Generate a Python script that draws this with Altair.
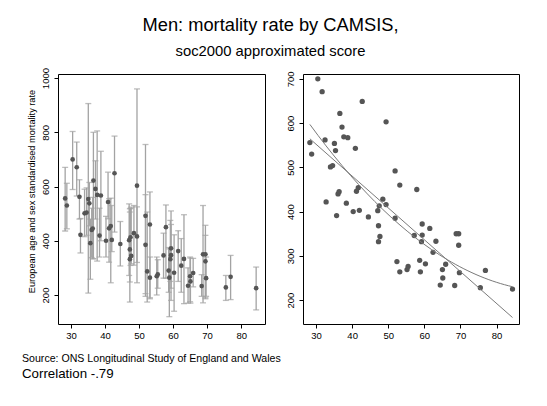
import altair as alt
import pandas as pd

camsis = [28.3, 28.8, 30.5, 31.7, 32.5, 32.8, 34.0, 34.6, 35.1, 35.4, 35.7, 36.1, 36.4, 36.6,
          37.2, 37.7, 38.4, 38.8, 40.3, 40.9, 41.2, 41.7, 42.0, 42.8, 44.5, 47.1, 47.3, 47.3,
          47.7, 47.5, 48.5, 49.4, 49.4, 51.9, 51.9, 52.4, 53.2, 53.2, 55.2, 55.5, 57.2, 57.9,
          58.7, 58.9, 59.2, 59.4, 59.4, 60.3, 61.5, 62.4, 63.2, 64.4, 65.0, 65.1, 65.9, 68.4,
          68.8, 69.5, 69.5, 69.7, 75.5, 76.9, 84.4]
rate = [556, 530, 700, 671, 562, 422, 501, 504, 554, 538, 391, 440, 445, 622,
        591, 569, 419, 567, 400, 543, 446, 454, 403, 649, 388, 402, 368, 332,
        344, 413, 428, 416, 603, 492, 385, 287, 264, 460, 269, 276, 346, 450,
        290, 264, 332, 372, 347, 282, 362, 308, 333, 234, 269, 250, 281, 233,
        350, 350, 324, 262, 228, 267, 225]
upper = [671, 612, 803, 764, 625, 482, 590, 595, 906, 615, 480, 520, 560, 800,
         695, 805, 520, 730, 490, 653, 555, 557, 530, 786, 471, 536, 506, 518,
         524, 520, 530, 525, 960, 755, 570, 506, 340, 580, 340, 330, 428, 532,
         375, 370, 475, 510, 460, 422, 437, 408, 496, 300, 340, 336, 335, 275,
         530, 457, 420, 340, 272, 346, 303]
lower = [436, 444, 589, 565, 480, 355, 415, 420, 207, 455, 258, 338, 333, 334,
         480, 325, 340, 400, 340, 481, 321, 245, 360, 432, 307, 272, 248, 174,
         315, 309, 310, 320, 245, 205, 195, 174, 190, 186, 200, 225, 262, 262,
         210, 120, 250, 225, 180, 140, 250, 210, 168, 170, 175, 170, 230, 195,
         171, 186, 190, 195, 180, 183, 145]

x_ticks = [30, 40, 50, 60, 70, 80]
left_y_ticks = [200, 400, 600, 800, 1000]
right_y_ticks = [200, 300, 400, 500, 600, 700]

df = pd.DataFrame({"camsis": camsis, "rate": rate, "upper": upper, "lower": lower})

FONT = "Liberation Sans"
PT = "#555555"
BAR = "#a3a3a3"

def xaxis():
    return alt.Axis(values=x_ticks, title=None, grid=False, domain=False, tickSize=4,
                    tickColor="black", labelFontSize=9.5, labelColor="black", labelFont=FONT,
                    labelPadding=2, format="d")

def yaxis(vals, title=None):
    kw = dict(values=vals, grid=False, domain=False, tickSize=4, tickColor="black",
              labelFontSize=9.5, labelColor="black", labelFont=FONT, labelAngle=270,
              labelAlign="center", labelBaseline="bottom", labelPadding=4, format="d")
    if title:
        kw.update(title=title, titleFontSize=9.2, titleFontWeight="normal", titleFont=FONT,
                  titleColor="black", titlePadding=4, titleY=117)
    else:
        kw.update(title=None)
    return alt.Axis(**kw)

lx = alt.X("camsis:Q", scale=alt.Scale(domain=[26.2, 87], nice=False, zero=False), axis=xaxis())
ly_scale = alt.Scale(domain=[93, 1015], nice=False, zero=False)

base_l = alt.Chart(df)
bars = base_l.mark_rule(color=BAR, strokeWidth=1.3, clip=True).encode(
    x=lx,
    y=alt.Y("lower:Q", scale=ly_scale,
            axis=yaxis(left_y_ticks, "European age and sex standardised mortality rate")),
    y2="upper:Q",
)
cap_hi = base_l.mark_tick(color=BAR, orient="horizontal", size=6, thickness=1.3, clip=True).encode(
    x="camsis:Q", y=alt.Y("upper:Q", scale=ly_scale))
cap_lo = base_l.mark_tick(color=BAR, orient="horizontal", size=6, thickness=1.3, clip=True).encode(
    x="camsis:Q", y=alt.Y("lower:Q", scale=ly_scale))
pts_l = base_l.mark_circle(color=PT, opacity=1, size=22).encode(
    x="camsis:Q", y=alt.Y("rate:Q", scale=ly_scale))

left = alt.layer(bars, cap_hi, cap_lo, pts_l).properties(
    width=207, height=250,
    title=alt.Title(text="Source: ONS Longitudinal Study of England and Wales",
                    subtitle="Correlation -.79", orient="bottom", anchor="start",
                    frame="group", dx=-36, fontSize=10.6, subtitleFontSize=13.3,
                    font=FONT, subtitleFont=FONT, fontWeight="normal", color="black",
                    subtitleColor="black", offset=14, subtitlePadding=3),
)

rx = alt.X("camsis:Q", scale=alt.Scale(domain=[26.4, 86.2], nice=False, zero=False), axis=xaxis())
ry = alt.Y("rate:Q", scale=alt.Scale(domain=[146, 711], nice=False, zero=False),
           axis=yaxis(right_y_ticks))
base_r = alt.Chart(df)
pts_r = base_r.mark_circle(color=PT, opacity=1, size=28).encode(x=rx, y=ry)
lin = base_r.transform_regression("camsis", "rate", method="linear").mark_line(
    color="#7a7a7a", strokeWidth=1).encode(x="camsis:Q", y="rate:Q")
quad = base_r.transform_regression("camsis", "rate", method="poly", order=2).mark_line(
    color="#7a7a7a", strokeWidth=1).encode(x="camsis:Q", y="rate:Q")
right = alt.layer(pts_r, lin, quad).properties(width=216, height=250)

chart = alt.hconcat(left, right, spacing=38, bounds="flush").properties(
    title=alt.Title(text="Men: mortality rate by CAMSIS,", subtitle="soc2000 approximated score",
                    anchor="middle", fontSize=18.3, subtitleFontSize=14.8, font=FONT,
                    subtitleFont=FONT, fontWeight="normal", color="black", subtitleColor="black",
                    subtitlePadding=9, offset=7),
    padding={"left": 13, "top": 7, "right": 10, "bottom": 5},
    background="white",
).configure_view(stroke="black", strokeWidth=1).configure_axis(labelFont=FONT)

chart.save("out.html", embed_options={"renderer": "svg", "actions": False})
